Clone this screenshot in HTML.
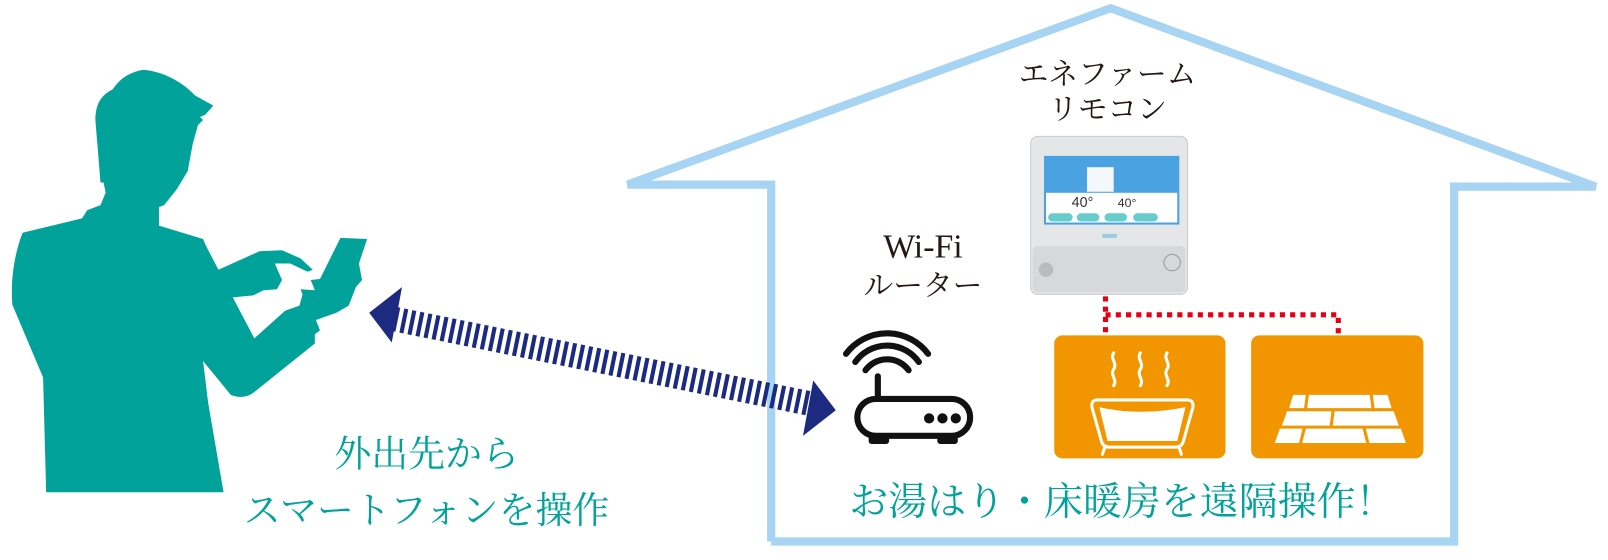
<!DOCTYPE html>
<html><head><meta charset="utf-8"><style>
body{margin:0;background:#fff;width:1608px;height:560px;overflow:hidden}
svg{display:block}
.s{font-family:"Liberation Serif","Noto Serif CJK SC",serif}
</style></head><body>
<svg width="1608" height="560" viewBox="0 0 1608 560">
<g transform="scale(1.02551)">
<!-- house -->
<polyline points="752,528 752,180 612,180 1083,8 1556,182 1418,182 1418,528 752,528" fill="none" stroke="#a6d4f2" stroke-width="8" stroke-linejoin="miter"/>
<!-- person -->
<path fill="#00a29a" d="M140,68 C160,70 178,80 190,93 L208,103 L200,112 L195,114 L198,117 L193,122 L188,140 L183,167 L172,185 L160,200 L155,202 L155,220 L198,233 L201,240 L213,263 L253,245 L275,244 L293,252 L305,263 L300,265 L283,257 L268,257 L275,273 L270,282 L257,283 L247,288 L227,290 L248,330 L278,303 L292,298 L295,287 L293,282 L307,283 L303,273 L312,272 L332,232 L358,233 L350,257 L353,273 L347,280 L340,298 L328,305 L308,312 L312,322 L307,326 L307,335 L247,383 C240,388 232,388 225,385 L198,352 L203,393 L218,480 L45,480 L42,368 L12,297 C10,270 15,245 22,227 L80,213 L85,205 L98,200 L103,188 L101,178 L98,178 L93,117 C93,100 100,92 110,87 C118,75 128,70 140,68 Z"/>
<!-- arrow -->
<line x1="384" y1="311" x2="792" y2="394" stroke="#1c2a80" stroke-width="24" stroke-dasharray="4,4"/>
<polygon points="360,305 392,280 382,334" fill="#1c2a80"/>
<polygon points="815,400 783,425 793,371" fill="#1c2a80"/>
<!-- texts -->
<text class="s" x="1080" y="82" font-size="29" text-anchor="middle" fill="#231815">エネファーム</text>
<text class="s" x="1080" y="116" font-size="29" text-anchor="middle" fill="#231815">リモコン</text>
<text class="s" x="900" y="251" font-size="33" text-anchor="middle" fill="#231815">Wi-Fi</text>
<text class="s" x="900" y="288" font-size="29" text-anchor="middle" fill="#231815">ルーター</text>
<text class="s" x="416" y="455" font-size="36" text-anchor="middle" fill="#00a29a">外出先から</text>
<text class="s" x="416" y="510" font-size="36" text-anchor="middle" fill="#00a29a">スマートフォンを操作</text>
<text class="s" x="1094" y="502" font-size="38" text-anchor="middle" fill="#00a29a">お湯はり・床暖房を遠隔操作！</text>
<!-- remote -->
<rect x="1005" y="133" width="153" height="154" rx="7" fill="#e4e6e8" stroke="#c9cccf"/>
<rect x="1007" y="240" width="149" height="45" rx="5" fill="#d6d8da"/>
<rect x="1018" y="152" width="132" height="67" fill="#4aa3e0"/>
<rect x="1020" y="188" width="128" height="29" fill="#fff"/>
<rect x="1022" y="208" width="24" height="8" rx="4" fill="#6cc"/>
<rect x="1050" y="208" width="22" height="8" rx="4" fill="#6cc"/>
<rect x="1077" y="208" width="22" height="8" rx="4" fill="#6cc"/>
<rect x="1105" y="208" width="24" height="8" rx="4" fill="#6cc"/>
<text x="1045" y="202" font-size="14" font-family="Liberation Sans" fill="#333">40°</text>
<text x="1090" y="202" font-size="12" font-family="Liberation Sans" fill="#333">40°</text>
<rect x="1060" y="163" width="26" height="24" fill="#f4f8fb"/>
<rect x="1075" y="228" width="14" height="4" fill="#9cd"/>
<circle cx="1020" cy="263" r="7" fill="#bbb"/>
<circle cx="1143" cy="256" r="8" fill="none" stroke="#999"/>
<!-- red dotted -->
<path d="M1078,289 V327 M1078,307 H1305 V327" fill="none" stroke="#e60012" stroke-width="5" stroke-dasharray="5,5"/>
<!-- orange boxes -->
<rect x="1028" y="327" width="167" height="120" rx="8" fill="#f29600"/>
<rect x="1220" y="327" width="168" height="120" rx="8" fill="#f29600"/>
<g fill="none" stroke="#fff" stroke-width="3" stroke-linecap="round">
<path d="M1086,344 c-4,6 4,10 0,16 c-4,6 4,10 0,16"/>
<path d="M1112,344 c-4,6 4,10 0,16 c-4,6 4,10 0,16"/>
<path d="M1138,344 c-4,6 4,10 0,16 c-4,6 4,10 0,16"/>
<path d="M1070,390 h88 c5,0 6,4 5,8 l-9,32 c-1,4 -4,6 -8,6 h-64 c-4,0 -7,-2 -8,-6 l-9,-32 c-1,-4 0,-8 5,-8 z"/>
<path d="M1077,437 l-2,6 M1150,437 l2,6"/>
</g>
<path d="M1072,397 c25,6 55,6 84,0 l-8,33 h-68 z" fill="#fff"/>
<g fill="#fff">
<polygon points="1261,385 1353,385 1357,398 1257,398"/>
<polygon points="1255,401 1359,401 1364,415 1250,415"/>
<polygon points="1248,418 1366,418 1371,432 1243,432"/>
</g>
<g stroke="#f29600" stroke-width="3">
<line x1="1275" y1="384" x2="1273" y2="399"/><line x1="1337" y1="384" x2="1339" y2="399"/>
<line x1="1300" y1="400" x2="1298" y2="416"/>
<line x1="1272" y1="417" x2="1268" y2="433"/><line x1="1330" y1="417" x2="1334" y2="433"/>
</g>
<!-- router -->
<g fill="none" stroke="#111" stroke-width="6" stroke-linecap="round">
<path d="M825,345 A50,50 0 0 1 905,345"/>
<path d="M834,353 A38,38 0 0 1 896,353"/>
<path d="M844,361 A26,26 0 0 1 886,361"/>
<line x1="856" y1="367" x2="856" y2="388"/>
<rect x="836" y="389" width="110" height="36" rx="18"/>
</g>
<circle cx="906" cy="408" r="5" fill="#111"/><circle cx="919" cy="408" r="5" fill="#111"/><circle cx="932" cy="408" r="5" fill="#111"/>
<rect x="847" y="425" width="20" height="8" rx="3" fill="#111"/>
<rect x="914" y="425" width="20" height="8" rx="3" fill="#111"/>
</g>
</svg>
</body></html>
